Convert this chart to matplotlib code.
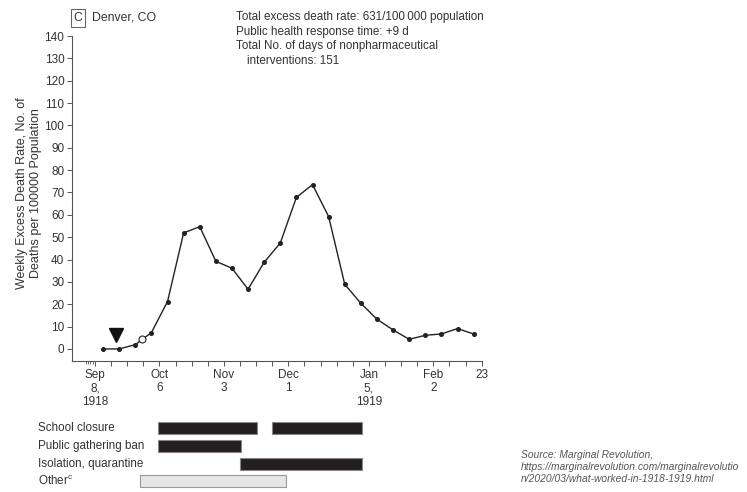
import numpy as np
import matplotlib.pyplot as plt

plt.rcParams['font.family'] = ['Liberation Sans', 'DejaVu Sans']
plt.rcParams['mathtext.fontset'] = 'custom'
plt.rcParams['mathtext.rm'] = 'Liberation Sans'

# weekly excess deaths per 100 000, Denver 1918-1919 (plotted mid-week, days from Sep 8)
week_day = [3.5 + 7 * k for k in range(24)]
death_rate = [0, 0, 1.9, 7.3, 21.2, 51.9, 54.7, 39.2, 36.1, 26.7, 38.8, 47.4,
              67.8, 73.5, 59.2, 28.9, 20.4, 13.3, 8.5, 4.3, 6.1, 6.7, 9.1, 6.7]

# first case marker and public health response marker
open_day, open_val = 20.4, 4.3
tri_day, tri_val = 9, 6.3

tick_days = [0, 28, 56, 84, 119, 147, 168]
tick_text = ['Sep\n8,\n1918', 'Oct\n6', 'Nov\n3', 'Dec\n1', 'Jan\n5,\n1919', 'Feb\n2', '23']

# interventions as (start day, end day)
npi_names = ['School closure', 'Public gathering ban', 'Isolation, quarantine', 'Other$^{\\mathrm{c}}$']
npi_spans = [[(27.4, 70.3), (76.7, 115.9)],
             [(27.4, 63.4)],
             [(63.1, 115.9)],
             [(19.5, 82.9)]]

W, H = 747, 492
fig = plt.figure(figsize=(W / 100, H / 100), dpi=100)
txt = '#333333'

def box(l, t, r, b):
    return [l / W, 1 - b / H, (r - l) / W, (b - t) / H]

ax = fig.add_axes(box(72, 36, 481.7, 361))
ax.plot(week_day, death_rate, color='#222222', lw=1.0, marker='o', ms=2.6, zorder=2)
ax.plot([open_day], [open_val], 'o', ms=5, mfc='white', mec='#222222', mew=0.8, zorder=3)
ax.plot([tri_day], [tri_val], 'v', ms=10, color='#111111', zorder=3)

ax.set_xlim(-10, 168)
ax.set_ylim(-5.4, 140)
ax.set_yticks(np.arange(0, 141, 10))
weeks = np.arange(0, 169, 7)
ax.set_xticks(weeks)
ax.set_xticklabels([tick_text[tick_days.index(d)] if d in tick_days else '' for d in weeks],
                   linespacing=1.2)
ax.set_xticks([-4, -3, -2, -1], minor=True)
ax.tick_params(axis='x', which='minor', length=2, width=0.6, color='#555555')
ax.tick_params(axis='both', which='major', length=3.5, width=0.7, color='#555555',
               labelsize=8.5, labelcolor=txt, pad=2)
for s in ['top', 'right']:
    ax.spines[s].set_visible(False)
for s in ['left', 'bottom']:
    ax.spines[s].set_color('#555555')
    ax.spines[s].set_linewidth(0.8)

fig.text(29 / W, 1 - 193 / H, 'Weekly Excess Death Rate, No. of\nDeaths per 100000 Population',
         rotation=90, ha='center', va='center', fontsize=9.0, color=txt, linespacing=1.15)

fig.text(78 / W, 1 - 18 / H, 'C', ha='center', va='center', fontsize=8.8, color=txt,
         bbox=dict(boxstyle='square,pad=0.25', fc='white', ec='#666666', lw=0.8))
fig.text(92 / W, 1 - 18 / H, 'Denver, CO', ha='left', va='center', fontsize=8.8, color=txt)

info = [('Total excess death rate: 631/100\u2009000 population', 236),
        ('Public health response time: +9 d', 236),
        ('Total No. of days of nonpharmaceutical', 236),
        ('interventions: 151', 247)]
for i, (s, x) in enumerate(info):
    fig.text(x / W, 1 - (17 + 14.5 * i) / H, s, ha='left', va='center', fontsize=8.4, color=txt)

# intervention timeline bars
bx = fig.add_axes(box(72, 419.5, 481.7, 490.3))
bx.set_xlim(-10, 168)
bx.set_ylim(3.5, -0.5)
for i, spans in enumerate(npi_spans):
    other = i == 3
    for a, b in spans:
        bx.barh(i, b - a, left=a, height=0.68,
                color='#e6e6e6' if other else '#231f20',
                edgecolor='#999999' if other else '#888888', linewidth=0.8)
    fig.text(38 / W, 1 - (428.3 + 17.7 * i) / H, npi_names[i], ha='left', va='center',
             fontsize=8.4, color=txt)
bx.axis('off')

fig.text(521 / W, 1 - 467 / H,
         'Source: Marginal Revolution,\nhttps://marginalrevolution.com/marginalrevolutio\nn/2020/03/what-worked-in-1918-1919.html',
         ha='left', va='center', fontsize=7.4, color='#555555', style='italic', linespacing=1.25)

fig.savefig('out.png', dpi=100)
